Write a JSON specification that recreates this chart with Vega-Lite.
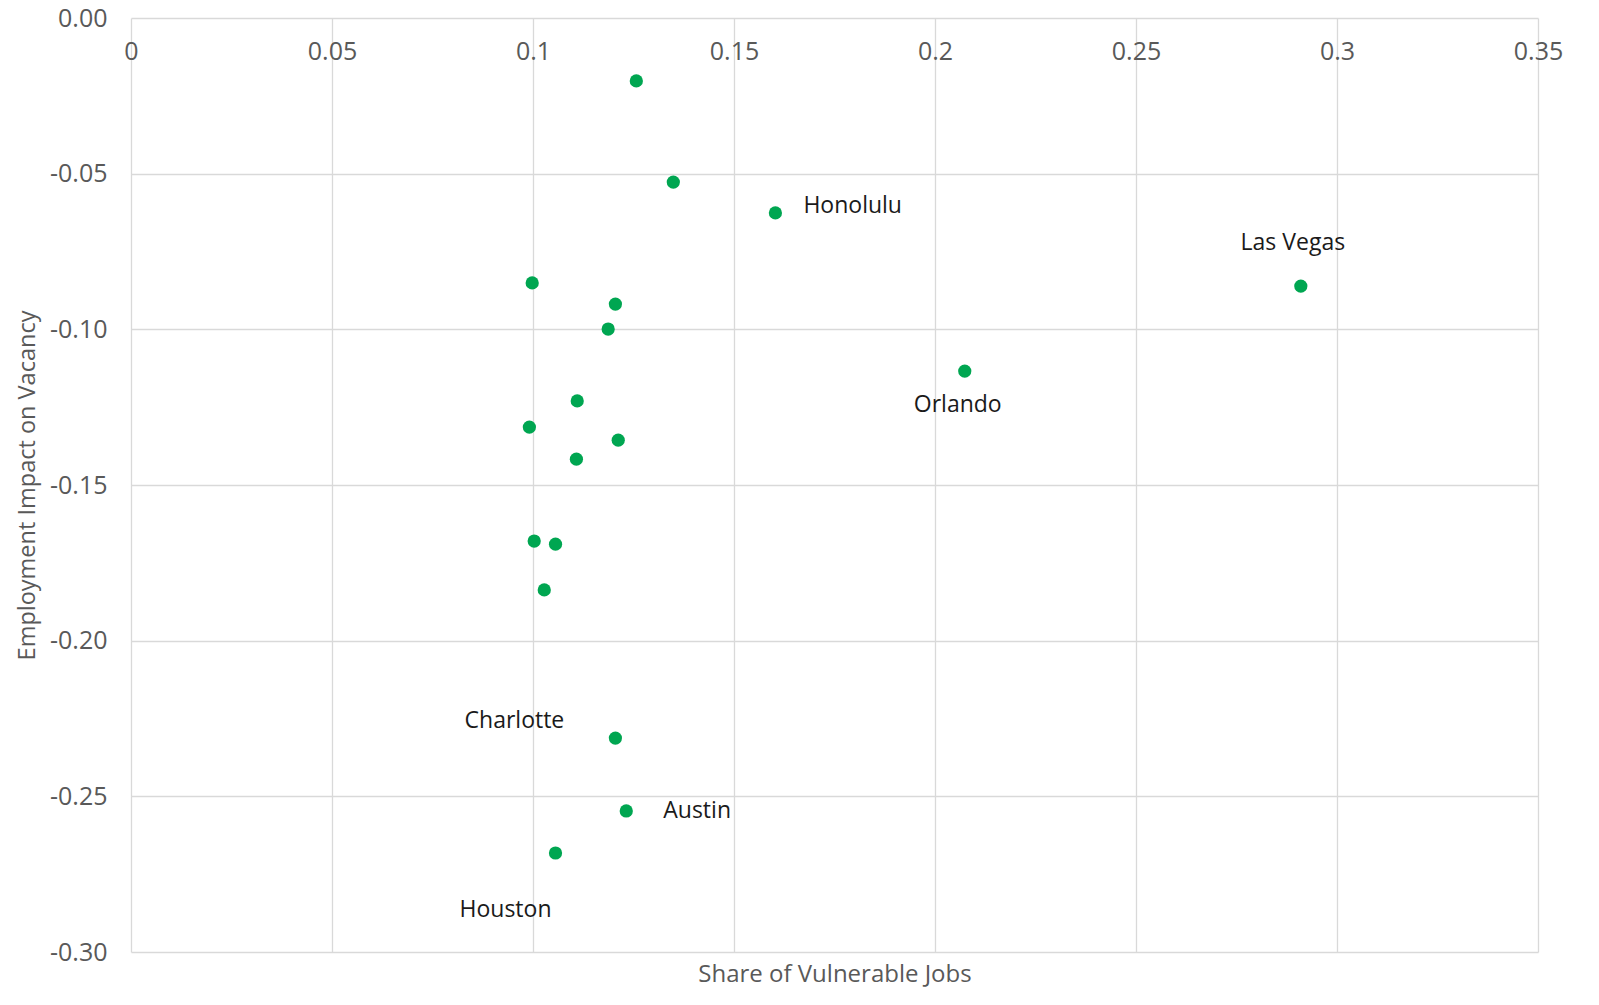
{
  "$schema": "https://vega.github.io/schema/vega-lite/v6.json",
  "width": 1599,
  "height": 1005,
  "autosize": {"type": "fit", "contains": "padding"},
  "padding": {"left": 15, "top": 6, "right": 36, "bottom": 19},
  "background": "white",
  "config": {
    "view": {"stroke": null},
    "font": "Open Sans",
    "axis": {"gridColor": "#d9d9d9", "gridWidth": 1.3, "labelColor": "#595959", "titleColor": "#595959", "labelFont": "Open Sans", "titleFont": "Open Sans", "labelFontSize": 25, "titleFontSize": 23.5, "titleFontWeight": "normal", "domain": false, "ticks": false, "labelFlush": false},
    "text": {"font": "Open Sans", "fontSize": 23, "color": "#1a1a1a"}
  },
  "data": {
    "values": [
      {"city": "", "share": 0.1257, "impact": -0.0202},
      {"city": "", "share": 0.1349, "impact": -0.0527},
      {"city": "Honolulu", "share": 0.1603, "impact": -0.0626},
      {"city": "", "share": 0.0998, "impact": -0.0851},
      {"city": "", "share": 0.1205, "impact": -0.0919},
      {"city": "", "share": 0.1187, "impact": -0.0999},
      {"city": "Las Vegas", "share": 0.2910, "impact": -0.0861},
      {"city": "Orlando", "share": 0.2074, "impact": -0.1134},
      {"city": "", "share": 0.1110, "impact": -0.1230},
      {"city": "", "share": 0.0991, "impact": -0.1314},
      {"city": "", "share": 0.1212, "impact": -0.1356},
      {"city": "", "share": 0.1108, "impact": -0.1417},
      {"city": "", "share": 0.1003, "impact": -0.1680},
      {"city": "", "share": 0.1056, "impact": -0.1690},
      {"city": "", "share": 0.1028, "impact": -0.1837},
      {"city": "Charlotte", "share": 0.1205, "impact": -0.2313},
      {"city": "Austin", "share": 0.1232, "impact": -0.2547},
      {"city": "Houston", "share": 0.1056, "impact": -0.2682}
    ]
  },
  "layer": [
    {
      "mark": {"type": "circle", "size": 175, "color": "#00a651", "opacity": 1},
      "encoding": {
        "x": {"field": "share", "type": "quantitative", "scale": {"domain": [0, 0.35], "nice": false, "zero": false},
          "axis": {"orient": "bottom", "title": "Share of Vulnerable Jobs", "titleFontSize": 24, "labels": false, "grid": true, "values": [0, 0.05, 0.1, 0.15, 0.2, 0.25, 0.3, 0.35], "titlePadding": 10}},
        "y": {"field": "impact", "type": "quantitative", "scale": {"domain": [-0.3, 0], "nice": false, "zero": false},
          "title": "Employment Impact on Vacancy",
          "axis": {"format": ".2f", "labelExpr": "replace(datum.label, '\u2212', '-')", "values": [0, -0.05, -0.1, -0.15, -0.2, -0.25, -0.3], "grid": true, "labelPadding": 24, "titlePadding": 10}}
      }
    },
    {
      "transform": [{"filter": "datum.city === 'Honolulu'"}],
      "mark": {"type": "text", "align": "left", "baseline": "middle", "dx": 28, "dy": -7},
      "encoding": {
        "x": {"field": "share", "type": "quantitative",
          "axis": {"orient": "top", "title": null, "grid": false, "labelPadding": -41, "labelBaseline": "alphabetic", "format": "~g", "values": [0, 0.05, 0.1, 0.15, 0.2, 0.25, 0.3, 0.35]}},
        "y": {"field": "impact", "type": "quantitative", "title": "Employment Impact on Vacancy"},
        "text": {"field": "city"}
      }
    },
    {
      "transform": [{"filter": "datum.city === 'Austin'"}],
      "mark": {"type": "text", "align": "left", "baseline": "middle", "dx": 37, "dy": 0},
      "encoding": {
        "x": {"field": "share", "type": "quantitative", "axis": null},
        "y": {"field": "impact", "type": "quantitative", "title": "Employment Impact on Vacancy"},
        "text": {"field": "city"}
      }
    },
    {
      "transform": [{"filter": "datum.city === 'Las Vegas'"}],
      "mark": {"type": "text", "align": "center", "baseline": "middle", "dx": -8, "dy": -43},
      "encoding": {
        "x": {"field": "share", "type": "quantitative", "axis": null},
        "y": {"field": "impact", "type": "quantitative", "title": "Employment Impact on Vacancy"},
        "text": {"field": "city"}
      }
    },
    {
      "transform": [{"filter": "datum.city === 'Orlando'"}],
      "mark": {"type": "text", "align": "center", "baseline": "middle", "dx": -7, "dy": 34},
      "encoding": {
        "x": {"field": "share", "type": "quantitative", "axis": null},
        "y": {"field": "impact", "type": "quantitative", "title": "Employment Impact on Vacancy"},
        "text": {"field": "city"}
      }
    },
    {
      "transform": [{"filter": "datum.city === 'Charlotte'"}],
      "mark": {"type": "text", "align": "center", "baseline": "middle", "dx": -101, "dy": -17},
      "encoding": {
        "x": {"field": "share", "type": "quantitative", "axis": null},
        "y": {"field": "impact", "type": "quantitative", "title": "Employment Impact on Vacancy"},
        "text": {"field": "city"}
      }
    },
    {
      "transform": [{"filter": "datum.city === 'Houston'"}],
      "mark": {"type": "text", "align": "center", "baseline": "middle", "dx": -50, "dy": 57},
      "encoding": {
        "x": {"field": "share", "type": "quantitative", "axis": null},
        "y": {"field": "impact", "type": "quantitative", "title": "Employment Impact on Vacancy"},
        "text": {"field": "city"}
      }
    }
  ],
  "resolve": {"axis": {"x": "independent"}}
}
